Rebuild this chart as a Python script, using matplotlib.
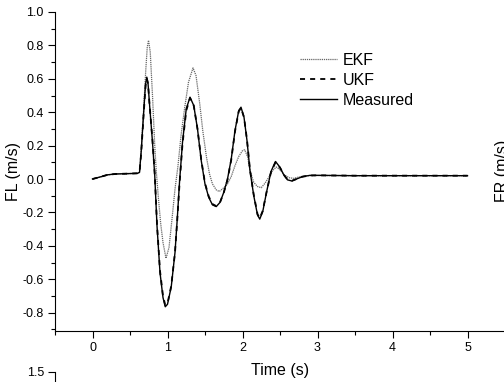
import matplotlib
matplotlib.use("Agg")
import matplotlib.pyplot as plt
from matplotlib.ticker import MultipleLocator

plt.rcParams['font.family'] = ['Liberation Sans', 'DejaVu Sans']

# Front-left velocity response (m/s)
t_meas = [0, 0.1, 0.2, 0.3, 0.45, 0.6,
          0.627, 0.65, 0.671, 0.70, 0.71, 0.724,
          0.74, 0.76, 0.80, 0.83, 0.86, 0.90,
          0.94, 0.97, 1.00, 1.05, 1.10, 1.13,
          1.16, 1.20, 1.25, 1.30, 1.35, 1.40,
          1.45, 1.50, 1.55, 1.60, 1.65, 1.70,
          1.75, 1.80, 1.85, 1.90, 1.95, 1.98,
          2.02, 2.06, 2.10, 2.15, 2.20, 2.23,
          2.27, 2.32, 2.38, 2.44, 2.50, 2.55,
          2.60, 2.66, 2.72, 2.80, 2.90, 3.0,
          3.5, 4.0, 4.5, 5.0]
v_meas = [0.0, 0.012, 0.025, 0.03, 0.032, 0.034,
          0.04, 0.17, 0.32, 0.52, 0.575, 0.61,
          0.575, 0.45, 0.22, 0.02, -0.28, -0.56,
          -0.71, -0.765, -0.75, -0.645, -0.44, -0.24,
          -0.02, 0.22, 0.42, 0.49, 0.44, 0.30,
          0.11, -0.03, -0.11, -0.155, -0.165, -0.14,
          -0.08, 0.0, 0.12, 0.29, 0.41, 0.43,
          0.37, 0.23, 0.05, -0.10, -0.215, -0.24,
          -0.195, -0.08, 0.045, 0.105, 0.07, 0.025,
          -0.005, -0.012, 0.0, 0.014, 0.022, 0.022,
          0.02, 0.02, 0.02, 0.02]
v_ukf = [0.0, 0.012, 0.025, 0.03, 0.032, 0.034,
         0.04, 0.16, 0.31, 0.51, 0.57, 0.60,
         0.57, 0.45, 0.23, 0.03, -0.27, -0.55,
         -0.70, -0.755, -0.745, -0.64, -0.44, -0.245,
         -0.03, 0.21, 0.41, 0.485, 0.44, 0.30,
         0.115, -0.025, -0.105, -0.15, -0.162, -0.14,
         -0.082, -0.005, 0.115, 0.285, 0.405, 0.425,
         0.37, 0.235, 0.055, -0.095, -0.21, -0.235,
         -0.19, -0.08, 0.042, 0.10, 0.068, 0.026,
         -0.003, -0.01, 0.0, 0.014, 0.021, 0.022,
         0.02, 0.02, 0.02, 0.02]

t_ekf = [0, 0.1, 0.2, 0.3, 0.45, 0.6,
         0.627, 0.65, 0.68, 0.71, 0.73, 0.747,
         0.77, 0.80, 0.83, 0.85, 0.88, 0.91,
         0.94, 0.98, 1.02, 1.06, 1.10, 1.14,
         1.18, 1.23, 1.28, 1.34, 1.38, 1.43,
         1.47, 1.52, 1.56, 1.60, 1.65, 1.69,
         1.73, 1.77, 1.80, 1.85, 1.90, 1.95,
         2.00, 2.03, 2.07, 2.10, 2.15, 2.20,
         2.25, 2.30, 2.35, 2.40, 2.45, 2.50,
         2.56, 2.62, 2.68, 2.75, 2.85, 3.0,
         3.5, 4.0, 4.5, 5.0]
v_ekf = [0.0, 0.012, 0.025, 0.03, 0.032, 0.034,
         0.04, 0.17, 0.40, 0.65, 0.79, 0.83,
         0.76, 0.50, 0.20, 0.05, -0.12, -0.27,
         -0.38, -0.475, -0.41, -0.24, -0.06, 0.08,
         0.26, 0.43, 0.58, 0.665, 0.62, 0.45,
         0.29, 0.13, 0.03, -0.03, -0.065, -0.075,
         -0.06, -0.045, -0.03, 0.015, 0.08, 0.135,
         0.17, 0.175, 0.13, 0.05, -0.02, -0.045,
         -0.052, -0.025, 0.01, 0.05, 0.072, 0.055,
         0.024, 0.008, 0.004, 0.012, 0.02, 0.021,
         0.02, 0.02, 0.02, 0.02]

fig = plt.figure(figsize=(5.04, 3.82), dpi=100)

# lower panel: only its top edge falls inside the canvas
ax2 = fig.add_axes([55/504, -0.8, 450/504, 0.8 + 10/382])
ax2.patch.set_visible(False)
ax2.set_ylim(-1.0, 1.5)
ax2.set_yticks([1.5])
ax2.set_yticklabels(['1.5'])
ax2.set_xticks([])
ax2.tick_params(direction='out', length=5, width=0.8, labelsize=9, pad=3)
for side in ['top', 'right', 'bottom']:
    ax2.spines[side].set_visible(False)

ax = fig.add_axes([55/504, 1 - 331/382, 450/504, 319/382])
ax.patch.set_visible(False)

ax.plot(t_ekf, v_ekf, color='0.4', lw=0.9, linestyle=(0, (1, 0.7)), label='EKF')
ax.plot(t_meas, v_ukf, color='black', lw=1.3, linestyle=(0, (2.8, 2.8)), label='UKF')
ax.plot(t_meas, v_meas, color='black', lw=1.0, label='Measured')

ax.set_xlim(-0.5, 5.5)
ax.set_ylim(-0.91, 1.0)
ax.xaxis.set_major_locator(MultipleLocator(1))
ax.xaxis.set_minor_locator(MultipleLocator(0.5))
ax.yaxis.set_minor_locator(MultipleLocator(0.1))
ax.set_yticks([-0.8, -0.6, -0.4, -0.2, 0.0, 0.2, 0.4, 0.6, 0.8, 1.0])
ax.set_yticklabels(['-0.8', '-0.6', '-0.4', '-0.2', '0.0', '0.2', '0.4', '0.6', '0.8', '1.0'])
ax.tick_params(which='major', direction='out', length=5, width=0.8, labelsize=9, pad=3)
ax.tick_params(which='minor', direction='out', length=3, width=0.8)
for side in ['top', 'right']:
    ax.spines[side].set_visible(False)

ax.set_xlabel('Time (s)', fontsize=11.5, labelpad=6.5)
ax.set_ylabel('FL (m/s)', fontsize=11.5, labelpad=1)

ax.legend(loc='upper left', bbox_to_anchor=(300/504, 1 - 53/382),
          bbox_transform=fig.transFigure, frameon=False, fontsize=11.5,
          handlelength=2.3, handletextpad=0.4, labelspacing=0.3,
          borderpad=0, borderaxespad=0)

# label of the right-hand panel
fig.text(495/504, 1 - 171/382, 'FR (m/s)', rotation=90, fontsize=11.5,
         ha='left', va='center')

fig.savefig('out.png', dpi=100)
